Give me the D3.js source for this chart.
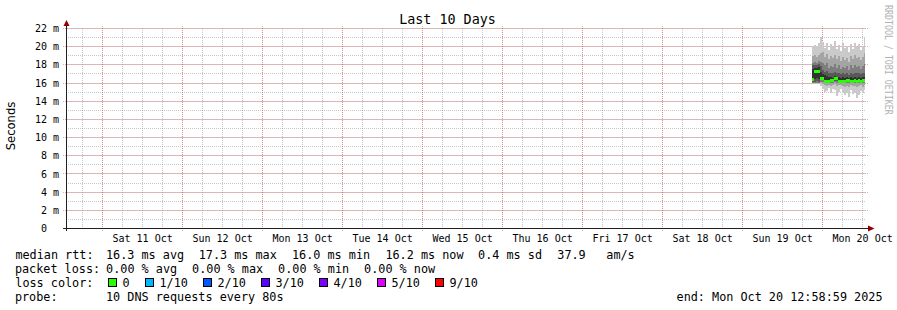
<!DOCTYPE html>
<html>
<head>
<meta charset="utf-8">
<script src="https://cdn.jsdelivr.net/npm/d3@7"></script>
<style>
  body { margin: 0; background: #fff; }
  svg text { font-family: "DejaVu Sans Mono", monospace; fill: #000; }
</style>
</head>
<body>
<div id="chart"></div>
<script>
// データ（画像から読み取り、単位 ms）
var dayLabels = ["Sat 11 Oct", "Sun 12 Oct", "Mon 13 Oct", "Tue 14 Oct", "Wed 15 Oct",
  "Thu 16 Oct", "Fri 17 Oct", "Sat 18 Oct", "Sun 19 Oct", "Mon 20 Oct"];
var yTicks = [0, 2, 4, 6, 8, 10, 12, 14, 16, 18, 20, 22];
var lossLabels = ["0", "1/10", "2/10", "3/10", "4/10", "5/10", "9/10"];
var lossColors = ["#26ff00", "#00b8ff", "#0059ff", "#5e00ff", "#7e00ff", "#dd00ff", "#ff0000"];

// 10回のpingを小さい順に並べた値（列ごと、36分刻み）
var ping01 = [15.9, 15.9, 15.9, 15.9, 15.6, 15.3, 15.0, 15.1, 15.4, 14.9, 15.3, 15.2, 14.5, 15.0, 15.3, 14.8, 14.6, 14.9, 14.4, 15.2, 14.7, 14.9, 14.3, 14.6, 15.1, 14.8, 15.2];
var ping02 = [15.95, 15.95, 15.95, 15.95, 15.9, 15.8, 15.7, 15.6, 15.7, 15.6, 15.7, 15.8, 15.6, 15.7, 15.7, 15.6, 15.5, 15.6, 15.5, 15.7, 15.6, 15.6, 15.5, 15.6, 15.7, 15.5, 15.7];
var ping03 = [16.0, 16.0, 16.0, 16.0, 16.1, 16.1, 16.0, 16.0, 16.0, 16.0, 16.0, 16.1, 16.0, 16.0, 16.0, 16.0, 16.0, 16.0, 16.0, 16.0, 16.0, 16.0, 16.0, 16.0, 16.0, 16.0, 16.0];
var ping04 = [16.1, 16.1, 16.2, 16.1, 16.3, 16.3, 16.1, 16.1, 16.1, 16.1, 16.1, 16.2, 16.2, 16.1, 16.1, 16.1, 16.1, 16.1, 16.1, 16.1, 16.1, 16.1, 16.1, 16.1, 16.1, 16.1, 16.1];
var ping05 = [16.3, 16.4, 16.5, 16.4, 16.6, 16.5, 16.3, 16.2, 16.2, 16.2, 16.2, 16.4, 16.4, 16.2, 16.2, 16.2, 16.2, 16.2, 16.2, 16.2, 16.2, 16.3, 16.2, 16.2, 16.2, 16.3, 16.3];
var ping06 = [17.5, 17.6, 17.6, 17.7, 17.2, 16.9, 16.8, 16.7, 16.6, 16.6, 16.5, 16.7, 16.6, 16.6, 16.5, 16.6, 16.5, 16.6, 16.5, 16.6, 16.5, 16.6, 16.5, 16.6, 16.5, 16.6, 16.6];
var ping07 = [17.9, 17.9, 17.9, 18.0, 17.8, 17.4, 17.2, 17.3, 17.0, 17.1, 17.0, 17.2, 17.0, 17.1, 16.9, 17.0, 16.9, 17.0, 16.8, 17.1, 16.9, 17.0, 17.0, 17.1, 16.9, 17.0, 17.1];
var ping08 = [18.2, 18.3, 18.2, 18.4, 18.3, 18.1, 17.9, 18.2, 17.6, 17.8, 17.7, 18.0, 17.6, 17.9, 17.5, 17.7, 17.6, 17.8, 17.4, 17.9, 17.6, 17.9, 17.7, 17.8, 17.5, 17.8, 18.0];
var ping09 = [18.9, 19.0, 18.8, 19.0, 19.2, 19.4, 18.8, 19.1, 18.6, 18.9, 18.7, 19.0, 18.6, 18.9, 18.4, 18.8, 18.5, 18.7, 18.3, 18.9, 18.6, 19.0, 18.7, 18.8, 18.5, 18.8, 19.3];
var ping10 = [20.0, 20.1, 20.0, 20.3, 21.0, 20.5, 19.8, 20.4, 19.6, 20.2, 19.9, 20.6, 19.7, 20.1, 19.5, 20.3, 19.8, 20.0, 19.4, 20.2, 19.7, 20.4, 19.9, 20.2, 19.6, 20.0, 21.0];
var median = [16.3, 17.2, 17.2, 17.2, 16.5, 16.5, 16.1, 16.1, 16.1, 16.2, 16.2, 16.4, 16.4, 16.1, 16.1, 16.1, 16.1, 16.2, 16.2, 16.1, 16.1, 16.2, 16.1, 16.2, 16.1, 16.2, 16.2];

var legendRtt = ["median rtt:", "16.3 ms avg", "17.3 ms max", "16.0 ms min", "16.2 ms now", "0.4 ms sd", "37.9", "am/s"];
var legendLoss = ["packet loss:", "0.00 % avg", "0.00 % max", "0.00 % min", "0.00 % now"];
var probeText = ["probe:", "10 DNS requests every 80s"];

var endTime = new Date(2025, 9, 20, 12, 58, 59);
var startTime = d3.timeDay.offset(endTime, -10);
var dataStart = new Date(2025, 9, 19, 21, 5);
var stepMin = 36;

// レイアウト
var width = 897, height = 310;
var svg = d3.select("#chart").append("svg").attr("width", width).attr("height", height);

var x = d3.scaleTime().domain([startTime, endTime]).range([65.4, 865.4]);
var y = d3.scaleLinear().domain([0, 22]).range([228, 28]);

var crisp = function (v) { return Math.floor(v) + 0.5; };

// グリッド（細）
var minorX = d3.timeHour.every(6).range(startTime, endTime);
var minorY = d3.range(0, 23, 1);
var grid = svg.append("g").attr("stroke-dasharray", "1,1").attr("fill", "none");
grid.selectAll(".mx").data(minorX).enter().append("line")
  .attr("x1", function (d) { return crisp(x(d)); })
  .attr("x2", function (d) { return crisp(x(d)); })
  .attr("y1", 28).attr("y2", 228)
  .attr("stroke", "rgba(144,144,144,0.5)");
grid.selectAll(".my").data(minorY).enter().append("line")
  .attr("x1", 66).attr("x2", 866)
  .attr("y1", function (d) { return Math.round(y(d)) + 0.5; })
  .attr("y2", function (d) { return Math.round(y(d)) + 0.5; })
  .attr("stroke", "rgba(144,144,144,0.5)");

// グリッド（太）
var majorX = d3.timeDay.range(startTime, endTime);
grid.selectAll(".Mx").data(majorX).enter().append("line")
  .attr("x1", function (d) { return crisp(x(d)); })
  .attr("x2", function (d) { return crisp(x(d)); })
  .attr("y1", 26).attr("y2", 231)
  .attr("stroke", "rgba(224,80,80,0.5)");
grid.selectAll(".My").data(yTicks).enter().append("line")
  .attr("x1", 63).attr("x2", 868)
  .attr("y1", function (d) { return Math.round(y(d)) + 0.5; })
  .attr("y2", function (d) { return Math.round(y(d)) + 0.5; })
  .attr("stroke", "rgba(224,80,80,0.5)");

// スモーク
var pings = [ping01, ping02, ping03, ping04, ping05, ping06, ping07, ping08, ping09, ping10];
var cols = median.map(function (m, i) {
  var t0 = d3.timeMinute.offset(dataStart, i * stepMin);
  var t1 = d3.timeMinute.offset(dataStart, (i + 1) * stepMin);
  return { i: i, t0: t0, t1: t1 > endTime ? endTime : t1 };
});
var plot = svg.append("g").attr("shape-rendering", "crispEdges");
for (var ii = 1; ii <= 5; ii++) {
  var lo = pings[ii - 1], hi = pings[10 - ii];
  var c = Math.round((190 / 5) * (5 - ii) + 50);
  plot.selectAll(".s" + ii).data(cols).enter().append("rect")
    .attr("x", function (d) { return x(d.t0); })
    .attr("width", function (d) { return x(d.t1) - x(d.t0); })
    .attr("y", function (d) { return y(hi[d.i]); })
    .attr("height", function (d) { return y(lo[d.i]) - y(hi[d.i]); })
    .attr("fill", d3.rgb(c, c, c));
}
// 中央値（損失0 → 緑）
plot.selectAll(".med").data(cols).enter().append("rect")
  .attr("x", function (d) { return x(d.t0); })
  .attr("width", function (d) { return x(d.t1) - x(d.t0); })
  .attr("y", function (d) { return y(median[d.i]) - 1.5; })
  .attr("height", 3)
  .attr("fill", lossColors[0]);

// 軸
svg.append("line").attr("x1", 63).attr("x2", 870).attr("y1", 228.5).attr("y2", 228.5)
  .attr("stroke", "#202020");
svg.append("line").attr("x1", 66.5).attr("x2", 66.5).attr("y1", 231).attr("y2", 25)
  .attr("stroke", "#202020");
svg.append("path").attr("d", "M868,225.5L874.5,228.5L868,231.5Z").attr("fill", "#900000");
svg.append("path").attr("d", "M63.5,26L66.5,20L69.5,26Z").attr("fill", "#900000");

// X軸ラベル（正午の位置）
var noonTicks = dayLabels.map(function (d, i) {
  return d3.timeHour.offset(d3.timeDay.offset(new Date(2025, 9, 11), i), 12);
});
var gx = svg.append("g").attr("transform", "translate(0,241.5)")
  .call(d3.axisBottom(x).tickValues(noonTicks).tickSize(0).tickPadding(0)
    .tickFormat(function (d, i) { return dayLabels[i]; }));
gx.select(".domain").remove();
gx.attr("font-family", null).attr("font-size", null);
gx.selectAll("text").attr("y", 0).attr("dy", 0).style("font-size", "10px");

// Y軸ラベル
var gy = svg.append("g").attr("transform", "translate(59.1,0)")
  .call(d3.axisLeft(y).tickValues(yTicks).tickSize(0).tickPadding(0)
    .tickFormat(function (d) { return d === 0 ? "0" : d + " m"; }));
gy.select(".domain").remove();
gy.attr("font-family", null).attr("font-size", null);
gy.selectAll("text").attr("x", function (d) { return d === 0 ? -12.04 : 0; })
  .attr("dy", "0.36em").style("font-size", "10px");

// タイトル
svg.append("text").attr("x", 447.5).attr("y", 23.5).attr("text-anchor", "middle")
  .style("font-size", "13.4px").text("Last 10 Days");

// 縦軸タイトル
svg.append("text").attr("transform", "translate(15,126) rotate(-90)")
  .attr("text-anchor", "middle")
  .style("font-family", "'DejaVu Sans', sans-serif").style("font-size", "11.6px")
  .text("Seconds");

// ウォーターマーク
svg.append("text").attr("transform", "translate(884.5,5) rotate(90) scale(0.83,1)")
  .style("font-size", "10px").style("fill", "#b3b3b3")
  .text("RRDTOOL / TOBI OETIKER");

// 凡例
var legendFont = "11.8px";
var rttX = [15.4, 106, 198.7, 292, 385.4, 478.1, 557.3, 606.3];
var lossX = [14.9, 106.1, 192.1, 278.1, 364.1];
var lg = svg.append("g").style("font-size", legendFont);
lg.selectAll(".r1").data(legendRtt).enter().append("text")
  .attr("x", function (d, i) { return rttX[i]; }).attr("y", 258.5).text(function (d) { return d; });
lg.selectAll(".r2").data(legendLoss).enter().append("text")
  .attr("x", function (d, i) { return lossX[i]; }).attr("y", 272.5).text(function (d) { return d; });
lg.append("text").attr("x", 15.3).attr("y", 286.5).text("loss color:");
var boxX = [108.5, 145.5, 203.5, 261.5, 319.5, 377.5, 435.5];
lg.selectAll(".box").data(lossColors).enter().append("rect")
  .attr("x", function (d, i) { return boxX[i]; }).attr("y", 278.5)
  .attr("width", 8).attr("height", 8)
  .attr("fill", function (d) { return d; }).attr("stroke", "#000");
lg.selectAll(".bl").data(lossLabels).enter().append("text")
  .attr("x", function (d, i) { return boxX[i] + 14; }).attr("y", 286.5)
  .text(function (d) { return d; });
lg.append("text").attr("x", 14.9).attr("y", 300.5).text(probeText[0]);
lg.append("text").attr("x", 106).attr("y", 300.5).text(probeText[1]);
lg.append("text").attr("x", 882.5).attr("y", 300.5).attr("text-anchor", "end")
  .text("end: " + d3.timeFormat("%a %b %d %H:%M:%S %Y")(endTime));
</script>
</body>
</html>
